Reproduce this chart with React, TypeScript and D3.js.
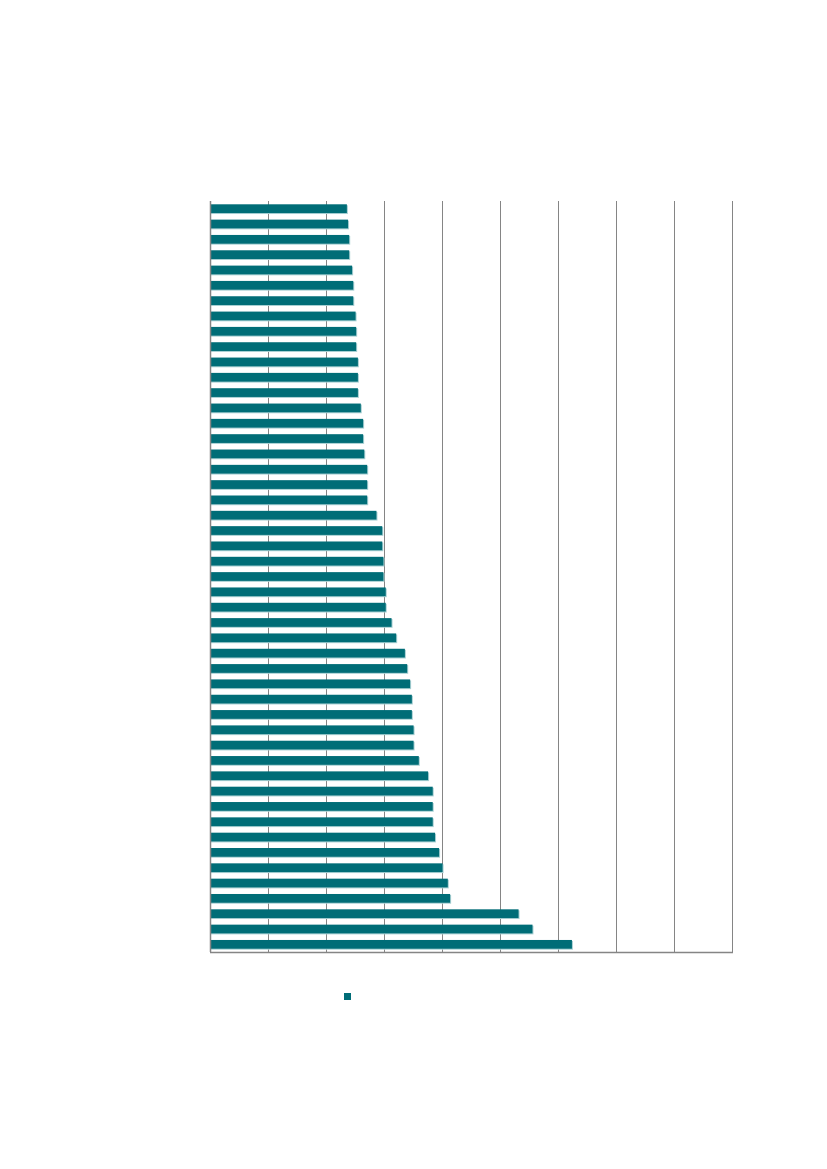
import { range, scaleBand, scaleLinear } from 'd3';

// 49 categories, labels not shown in the source chart
const categories = range(1, 50).map((i) => `C${i}`);
const values = [
  23.6, 23.8, 24.0, 24.0, 24.5, 24.7, 24.7, 25.1, 25.2, 25.2, 25.5, 25.5, 25.5,
  26.0, 26.4, 26.4, 26.6, 27.1, 27.1, 27.1, 28.7, 29.7, 29.7, 29.9, 29.9, 30.3,
  30.3, 31.3, 32.1, 33.6, 34.0, 34.5, 34.8, 34.8, 35.1, 35.1, 36.0, 37.6, 38.4,
  38.4, 38.4, 38.8, 39.5, 40.1, 41.0, 41.4, 53.2, 55.6, 62.4,
];
const xTicks = [0, 10, 20, 30, 40, 50, 60, 70, 80, 90];

const width = 827;
const height = 1169;
const margin = { top: 201, left: 210, right: 95, bottom: 217 };
const barColor = '#006d77';
const gridColor = '#858585';

export default function App() {
  const xScale = scaleLinear()
    .domain([0, 90])
    .range([margin.left, width - margin.right]);

  const yScale = scaleBand()
    .domain(categories)
    .range([margin.top, height - margin.bottom])
    .paddingInner(0.43)
    .paddingOuter(0.215);

  const x0 = xScale(0);
  const yTop = margin.top;
  const yBottom = height - margin.bottom;

  return (
    <svg
      width={width}
      height={height}
      style={{ position: 'absolute', left: 0, top: 0 }}>
      <g>
        {xTicks.map((t) => (
          <line
            key={t}
            x1={Math.round(xScale(t)) + 0.5}
            x2={Math.round(xScale(t)) + 0.5}
            y1={yTop}
            y2={yBottom}
            stroke={gridColor}
            strokeWidth={1}
          />
        ))}
      </g>
      <g>
        {categories.map((c, i) => (
          <g key={c}>
            <rect
              x={x0 + 1}
              y={yScale(c) + 1}
              width={xScale(values[i]) - x0}
              height={yScale.bandwidth()}
              fill='#a8d0d3'
            />
            <rect
              x={x0}
              y={yScale(c)}
              width={xScale(values[i]) - x0}
              height={yScale.bandwidth()}
              fill={barColor}
            />
          </g>
        ))}
      </g>
      <line
        x1={x0 + 0.5}
        x2={x0 + 0.5}
        y1={yTop}
        y2={yBottom}
        stroke={gridColor}
        strokeWidth={1.5}
      />
      <line
        x1={x0}
        x2={xScale(90) + 1}
        y1={yBottom + 0.5}
        y2={yBottom + 0.5}
        stroke={gridColor}
        strokeWidth={1.5}
      />
      <rect x={344} y={993} width={7} height={7} fill={barColor} />
    </svg>
  );
}
